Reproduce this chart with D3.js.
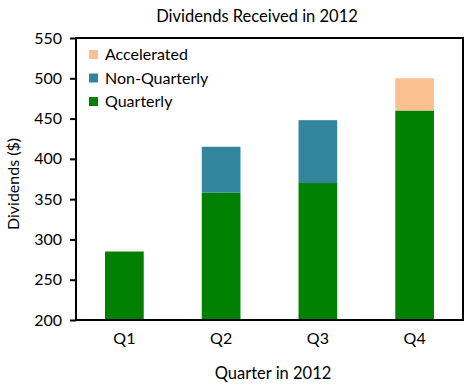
<!DOCTYPE html>
<html>
<head>
<meta charset="utf-8">
<script src="https://cdn.jsdelivr.net/npm/d3@7"></script>
<style>
  body { margin: 0; background: #fff; }
  text { font-family: Lato, "Open Sans", sans-serif; fill: #000; }
</style>
</head>
<body>
<div id="chart"></div>
<script>
// data
var quarters = ["Q1", "Q2", "Q3", "Q4"];
var quarterly = [285, 358, 370, 460];
var nonQuarterly = [0, 57, 78, 0];
var accelerated = [0, 0, 0, 40];
var seriesNames = ["Quarterly", "Non-Quarterly", "Accelerated"];
var seriesColors = ["#008000", "#31859c", "#fac090"];
var yTicks = [200, 250, 300, 350, 400, 450, 500, 550];

var W = 471, H = 388;
var m = { left: 76, right: 8, top: 38, bottom: 68 };

var svg = d3.select("#chart").append("svg")
    .attr("width", W)
    .attr("height", H);

var rows = quarters.map(function (q, i) {
    return { q: q, "Quarterly": quarterly[i], "Non-Quarterly": nonQuarterly[i], "Accelerated": accelerated[i] };
});
var stacked = d3.stack().keys(seriesNames)(rows);

var x = d3.scaleBand()
    .domain(quarters)
    .range([m.left, W - m.right])
    .paddingInner(0.6)
    .paddingOuter(0.3);

var y = d3.scaleLinear()
    .domain([200, 550])
    .range([H - m.bottom, m.top]);

var color = d3.scaleOrdinal().domain(seriesNames).range(seriesColors);

// bars
svg.append("g").selectAll("g")
    .data(stacked)
    .join("g")
    .attr("fill", function (d) { return color(d.key); })
    .selectAll("rect")
    .data(function (d) { return d; })
    .join("rect")
    .attr("x", function (d) { return x(d.data.q); })
    .attr("width", x.bandwidth())
    .attr("y", function (d) { return y(Math.max(d[1], 200)); })
    .attr("height", function (d) { return Math.max(0, y(Math.max(d[0], 200)) - y(Math.max(d[1], 200))); });

// plot frame
svg.append("rect")
    .attr("x", m.left)
    .attr("y", m.top)
    .attr("width", W - m.left - m.right)
    .attr("height", H - m.top - m.bottom)
    .attr("fill", "none")
    .attr("stroke", "#000")
    .attr("stroke-width", 2);

// y axis
var yAxis = svg.append("g")
    .attr("transform", "translate(" + m.left + ",0)")
    .call(d3.axisLeft(y).tickValues(yTicks).tickSize(6).tickPadding(8));
yAxis.select(".domain").remove();
yAxis.selectAll("line").attr("stroke", "#000").attr("stroke-width", 2);
yAxis.selectAll("text").style("font-size", "16px");

// x axis labels
var xAxis = svg.append("g")
    .attr("transform", "translate(0," + (H - m.bottom) + ")")
    .call(d3.axisBottom(x).tickSize(0).tickPadding(13));
xAxis.select(".domain").remove();
xAxis.selectAll("text").style("font-size", "16px");

// titles
svg.append("text")
    .attr("x", 257).attr("y", 22)
    .attr("text-anchor", "middle")
    .style("font-size", "16.5px")
    .text("Dividends Received in 2012");

svg.append("text")
    .attr("x", 273).attr("y", 379)
    .attr("text-anchor", "middle")
    .style("font-size", "16.5px")
    .text("Quarter in 2012");

svg.append("text")
    .attr("transform", "translate(19,184) rotate(-90)")
    .attr("text-anchor", "middle")
    .style("font-size", "16px")
    .text("Dividends ($)");

// legend, top series first
var legend = svg.append("g").attr("transform", "translate(89,50)");
var legendItems = legend.selectAll("g")
    .data(seriesNames.slice().reverse())
    .join("g")
    .attr("transform", function (d, i) { return "translate(0," + (i * 23.5) + ")"; });
legendItems.append("rect")
    .attr("width", 9).attr("height", 9)
    .attr("fill", function (d) { return color(d); });
legendItems.append("text")
    .attr("x", 16).attr("y", 10)
    .style("font-size", "16px")
    .text(function (d) { return d; });
</script>
</body>
</html>
